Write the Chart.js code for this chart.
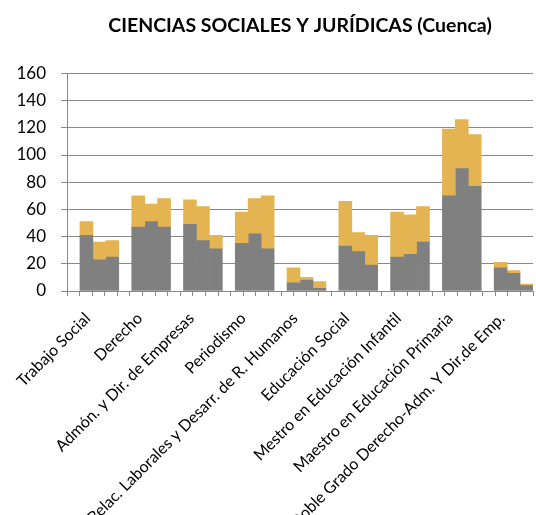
<!DOCTYPE html>
<html lang="es">
<head>
    <meta charset="utf-8">
    <title>Ciencias Sociales y Jurídicas (Cuenca)</title>
    <script src="https://cdn.jsdelivr.net/npm/chart.js"></script>
    <style>
        html, body {
            margin: 0;
            padding: 0;
            background: white;
        }

        #wrap {
            width: 536px;
            height: 515px;
        }
    </style>
</head>
<body>

    <div id="wrap">
        <canvas id="chart" width="536" height="515"></canvas>
    </div>

    <script>
        const titulaciones = [
            'Trabajo Social',
            'Derecho',
            'Admón. y Dir. de Empresas',
            'Periodismo',
            'Relac. Laborales y Desarr. de R. Humanos',
            'Educación Social',
            'Mestro en Educación Infantil',
            'Maestro en Educación Primaria',
            'Doble Grado Derecho-Adm. Y Dir.de Emp.'
        ];

        // gray (bottom) and gold (top) part of each of the three bars per degree
        const gris1 = [41, 47, 49, 35, 6, 33, 25, 70, 17];
        const oro1 = [10, 23, 18, 23, 11, 33, 33, 49, 4];
        const gris2 = [23, 51, 37, 42, 8, 29, 27, 90, 13];
        const oro2 = [13, 13, 25, 26, 2, 14, 29, 36, 2];
        const gris3 = [25, 47, 31, 31, 2, 19, 36, 77, 4];
        const oro3 = [12, 21, 10, 39, 5, 22, 26, 38, 1];

        const yTicks = [0, 20, 40, 60, 80, 100, 120, 140, 160];

        const GRIS = '#808080';
        const ORO = '#E4B352';
        const EJE = '#888888';
        const FONT = 'Lato, "Open Sans", sans-serif';

        const huecos = titulaciones.map(() => 0); // empty slot before each group

        new Chart(document.getElementById('chart').getContext('2d'), {
            type: 'bar',
            data: {
                labels: titulaciones,
                datasets: [
                    { data: huecos, stack: 's0', backgroundColor: 'rgba(0,0,0,0)' },
                    { data: gris1, stack: 's1', backgroundColor: GRIS },
                    { data: oro1, stack: 's1', backgroundColor: ORO },
                    { data: gris2, stack: 's2', backgroundColor: GRIS },
                    { data: oro2, stack: 's2', backgroundColor: ORO },
                    { data: gris3, stack: 's3', backgroundColor: GRIS },
                    { data: oro3, stack: 's3', backgroundColor: ORO }
                ]
            },
            options: {
                responsive: false,
                animation: false,
                categoryPercentage: 1,
                barPercentage: 1,
                borderWidth: 0,
                layout: { padding: { left: 0, right: 3, bottom: 0 } },
                plugins: {
                    legend: { display: false },
                    tooltip: { enabled: false },
                    title: {
                        display: true,
                        fullSize: false,
                        text: 'CIENCIAS SOCIALES Y JURÍDICAS (Cuenca)',
                        color: '#000',
                        font: { family: FONT, size: 19.5, weight: 'bold' },
                        padding: { top: 14, bottom: 36 }
                    }
                },
                scales: {
                    x: {
                        stacked: true,
                        grid: { display: false },
                        border: { display: true, color: EJE, width: 1 },
                        ticks: {
                            color: '#000',
                            font: { family: FONT, size: 16 },
                            minRotation: 45,
                            maxRotation: 45,
                            autoSkip: false,
                            padding: 10,
                            labelOffset: -5
                        },
                        afterFit: (axis) => { axis.height = 224; }
                    },
                    xSlots: {
                        type: 'linear',
                        position: 'bottom',
                        weight: -1,
                        min: 0,
                        max: titulaciones.length * 4,
                        grid: {
                            drawOnChartArea: false,
                            drawTicks: true,
                            tickLength: 5,
                            color: EJE
                        },
                        border: { display: false },
                        ticks: { stepSize: 1, display: false },
                        afterFit: (axis) => { axis.height = 0; }
                    },
                    y: {
                        stacked: true,
                        min: 0,
                        max: 160,
                        afterBuildTicks: (axis) => {
                            axis.ticks = yTicks.map(v => ({ value: v }));
                        },
                        grid: {
                            color: EJE,
                            lineWidth: 1,
                            tickLength: 6
                        },
                        border: { display: true, color: EJE, width: 1 },
                        ticks: {
                            color: '#000',
                            font: { family: FONT, size: 17 },
                            padding: 15
                        },
                        afterFit: (axis) => { axis.width = 67; }
                    }
                }
            }
        });
    </script>

</body>
</html>
